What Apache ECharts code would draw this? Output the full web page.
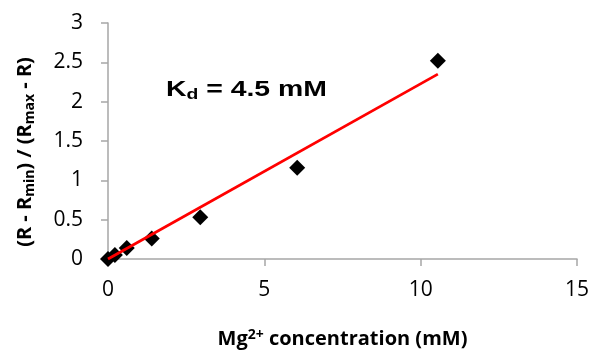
<!DOCTYPE html>
<html>
<head>
<meta charset="utf-8">
<script src="https://cdn.jsdelivr.net/npm/echarts@6/dist/echarts.min.js"></script>
<style>html,body{margin:0;padding:0;background:#fff;}#c{width:592px;height:351px;}</style>
</head>
<body>
<div id="c"></div>
<script>
const concentration = [0, 0.22, 0.6, 1.4, 2.95, 6.05, 10.55];
const ratio = [0.0, 0.05, 0.14, 0.26, 0.53, 1.16, 2.52];
const fitX = [0, 10.55];
const fitY = [0, 2.35];
const xTicks = [0, 5, 10, 15];
const yTicks = [0, 0.5, 1, 1.5, 2, 2.5, 3];

const chart = echarts.init(document.getElementById('c'));
const font = 'Open Sans';
chart.setOption({
  animation: false,
  grid: {left: 108, right: 15, top: 23, bottom: 92, outerBoundsMode: 'none', containLabel: false},
  xAxis: {
    type: 'value', min: xTicks[0], max: xTicks[xTicks.length-1], interval: 5,
    splitLine: {show: false},
    axisLine: {lineStyle: {color: '#a6a6a6', width: 1.5}},
    axisTick: {show: true, length: 7, lineStyle: {color: '#a6a6a6', width: 1.5}},
    axisLabel: {fontFamily: font, fontSize: 21, color: '#000', margin: 21},
    name: '{b|Mg}{sup|2+}{b| concentration (mM)}',
    nameLocation: 'middle', nameGap: 69,
    nameTextStyle: {
      rich: {
        b: {fontFamily: font, fontWeight: 'bold', fontSize: 20, color: '#000'},
        sup: {fontFamily: font, fontWeight: 'bold', fontSize: 14, color: '#000', padding: [0,0,9,0]}
      }
    }
  },
  yAxis: {
    type: 'value', min: yTicks[0], max: yTicks[yTicks.length-1], interval: 0.5,
    splitLine: {show: false},
    axisLine: {show: true, lineStyle: {color: '#a6a6a6', width: 1.5}},
    axisTick: {show: true, length: 7, lineStyle: {color: '#a6a6a6', width: 1.5}},
    axisLabel: {fontFamily: font, fontSize: 21, color: '#000', margin: 25},
    name: '{b|(R - R}{sub|min}{b|) / (R}{sub|max}{b| - R)}',
    nameLocation: 'middle', nameGap: 71, nameRotate: 90,
    nameTextStyle: {
      padding: [0, 22, 0, 0],
      rich: {
        b: {fontFamily: font, fontWeight: 'bold', fontSize: 20, color: '#000'},
        sub: {fontFamily: font, fontWeight: 'bold', fontSize: 14, color: '#000', padding: [9,0,0,0]}
      }
    }
  },
  graphic: [{
    type: 'text', left: 166, top: 79, scaleX: 1.29,
    style: {
      text: '{b|K}{sub|d}{b| = 4.5 mM}',
      rich: {
        b: {fontFamily: 'Liberation Sans', fontWeight: 'bold', fontSize: 22, fill: '#000'},
        sub: {fontFamily: 'Liberation Sans', fontWeight: 'bold', fontSize: 15, fill: '#000', padding: [9,0,0,0]}
      }
    }
  }],
  series: [
    {
      type: 'scatter', symbol: 'diamond', symbolSize: 16,
      itemStyle: {color: '#000', opacity: 1}, z: 2,
      data: concentration.map((x, i) => [x, ratio[i]])
    },
    {
      type: 'line', symbol: 'none', z: 3,
      lineStyle: {color: '#ff0000', width: 2.8},
      data: fitX.map((x, i) => [x, fitY[i]])
    }
  ]
});
</script>
</body>
</html>
